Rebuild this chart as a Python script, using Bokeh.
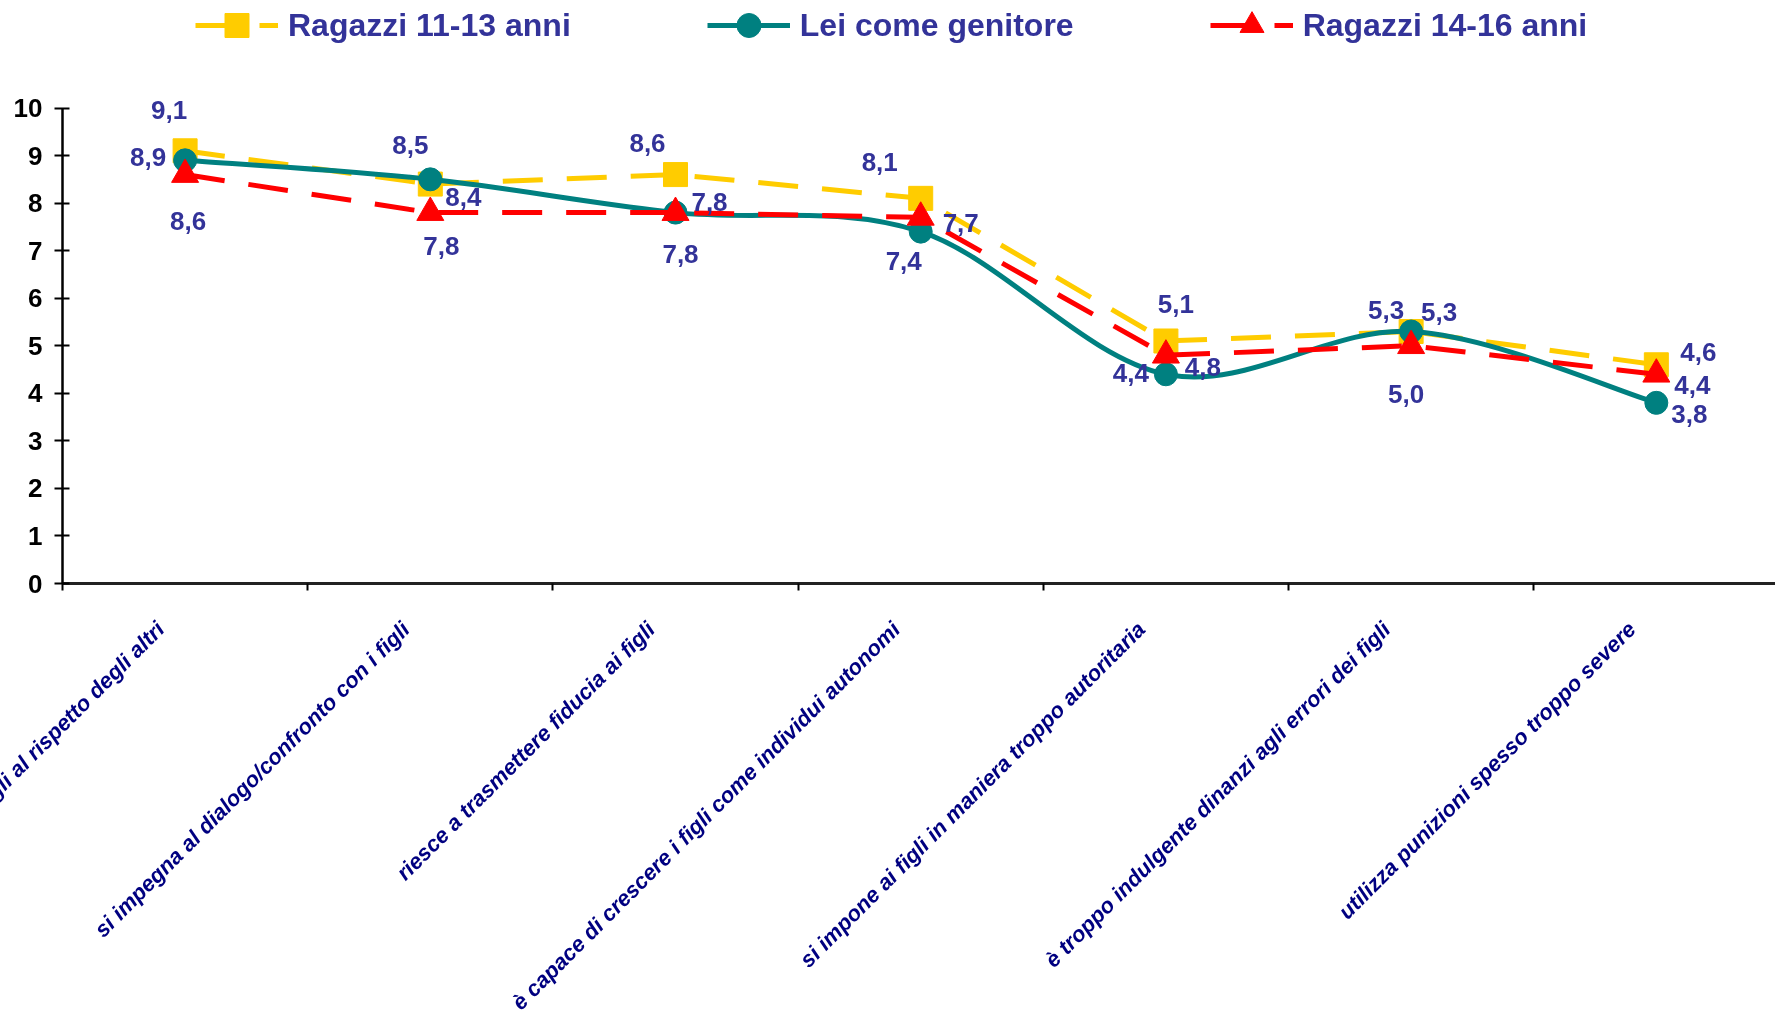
import math
from bokeh.plotting import figure
from bokeh.models import (Range1d, FixedTicker, LinearAxis, Legend, LegendItem,
                          LabelSet, ColumnDataSource)
from bokeh.core.properties import value
from bokeh.embed import file_html
from bokeh.resources import INLINE

# ---------------- data ----------------
categories = [
    "educa i figli al rispetto degli altri",
    "si impegna al dialogo/confronto con i figli",
    "riesce a trasmettere fiducia ai figli",
    "è capace di crescere i figli come individui autonomi",
    "si impone ai figli in maniera troppo autoritaria",
    "è troppo indulgente dinanzi agli errori dei figli",
    "utilizza punizioni spesso troppo severe",
]
ragazzi_11_13 = [9.1, 8.4, 8.6, 8.1, 5.1, 5.3, 4.6]
lei_genitore = [8.9, 8.5, 7.8, 7.4, 4.4, 5.3, 3.8]
ragazzi_14_16 = [8.6, 7.8, 7.8, 7.7, 4.8, 5.0, 4.4]
series_names = ["Ragazzi 11-13 anni", "Lei come genitore", "Ragazzi 14-16 anni"]
y_ticks = [0, 1, 2, 3, 4, 5, 6, 7, 8, 9, 10]

# ---------------- styles ----------------
FONT = "Liberation Sans"
LABEL_COLOR = "#333399"
CAT_COLOR = "#000080"
YELLOW = "#FFCC00"
TEAL = "#008080"
RED = "#FF0000"

# value-label offsets in screen px (dx right, dy down)
off_11_13 = [(-16, -41), (33, 13), (-28, -32), (-41, -36), (10, -37), (-25, -21), (42, -13)]
off_gen = [(-37, -3), (-20, -34), (34, -11), (-17, 29), (-35, -1), (28, -19), (33, 11)]
off_14_16 = [(3, 46), (11, 33), (5, 41), (40, 6), (37, 12), (-5, 48), (36, 11)]

x = [i + 0.5 for i in range(len(categories))]

SHIFT = 100   # canvas starts left of the window, so the first label is cut like the original
FRAME_H = 583
BOTTOM = 520
p = figure(width=1775 + SHIFT, height=FRAME_H + BOTTOM, output_backend="svg",
           toolbar_location=None,
           x_range=Range1d(0, 6.986), y_range=Range1d(0, 12.261),
           min_border_left=62 + SHIFT, min_border_right=0, min_border_top=0,
           min_border_bottom=BOTTOM, x_axis_type=None, y_axis_type=None)
p.styles = {"position": "fixed", "left": f"-{SHIFT}px", "top": "0px"}
p.outline_line_color = None
p.background_fill_color = "white"
p.border_fill_color = "white"

# y axis
yaxis = LinearAxis(ticker=FixedTicker(ticks=y_ticks, minor_ticks=[]), bounds=(0, 10))
yaxis.axis_line_color = "black"
yaxis.axis_line_width = 2.5
yaxis.major_tick_out = 8
yaxis.major_tick_in = 7
yaxis.major_tick_line_width = 2
yaxis.major_tick_line_color = "black"
yaxis.minor_tick_out = 0
yaxis.minor_tick_in = 0
yaxis.major_label_text_font = FONT
yaxis.major_label_text_font_size = "26px"
yaxis.major_label_text_font_style = "bold"
yaxis.major_label_text_color = "black"
yaxis.major_label_standoff = 12
p.add_layout(yaxis, "left")

# x axis: boundaries as minor ticks, labels at (shifted) centres
label_pos = [round(c - 0.1, 2) for c in x]
overrides = {}
for pos, cat in zip(label_pos, categories):
    overrides[pos] = cat
    overrides[f"{pos:g}"] = cat
xaxis = LinearAxis(ticker=FixedTicker(ticks=label_pos,
                                      minor_ticks=list(range(len(categories) + 1))))
xaxis.major_label_overrides = overrides
xaxis.axis_line_color = "#222222"
xaxis.axis_line_width = 3
xaxis.major_tick_out = 0
xaxis.major_tick_in = 0
xaxis.minor_tick_out = 7
xaxis.minor_tick_in = 0
xaxis.minor_tick_line_width = 2
xaxis.minor_tick_line_color = "black"
xaxis.major_label_orientation = math.pi / 4
xaxis.major_label_text_font = FONT
xaxis.major_label_text_font_size = "22px"
xaxis.major_label_text_font_style = "bold italic"
xaxis.major_label_text_color = CAT_COLOR
xaxis.major_label_standoff = 35
p.add_layout(xaxis, "below")

# series 1: yellow dashed squares
l1 = p.line(x, ragazzi_11_13, line_color=YELLOW, line_width=5, line_dash="40 24")
m1 = p.scatter(x, ragazzi_11_13, marker="square", size=24, fill_color=YELLOW,
               line_color=YELLOW)

# series 2: teal smoothed line (Catmull-Rom as cubic Bezier)
n = len(x)
px = [x[0]] + x + [x[-1]]
py = [lei_genitore[0]] + lei_genitore + [lei_genitore[-1]]
bx0, by0, bx1, by1, cx0, cy0, cx1, cy1 = ([] for _ in range(8))
for i in range(n - 1):
    a, b, c, d = i, i + 1, i + 2, i + 3
    bx0.append(px[b]); by0.append(py[b])
    bx1.append(px[c]); by1.append(py[c])
    cx0.append(px[b] + (px[c] - px[a]) / 6); cy0.append(py[b] + (py[c] - py[a]) / 6)
    cx1.append(px[c] - (px[d] - px[b]) / 6); cy1.append(py[c] - (py[d] - py[b]) / 6)
l2 = p.bezier(x0=bx0, y0=by0, x1=bx1, y1=by1, cx0=cx0, cy0=cy0, cx1=cx1, cy1=cy1,
              line_color=TEAL, line_width=5)
m2 = p.scatter(x, lei_genitore, marker="circle", size=23, fill_color=TEAL,
               line_color=TEAL)

# series 3: red dashed triangles
l3 = p.line(x, ragazzi_14_16, line_color=RED, line_width=5, line_dash="40 24")
m3 = p.scatter(x, ragazzi_14_16, marker="triangle", size=27, fill_color=RED,
               line_color=RED)

# value labels
lx, ly, lt, lxo, lyo = [], [], [], [], []
for vals, offs in ((ragazzi_11_13, off_11_13), (lei_genitore, off_gen),
                   (ragazzi_14_16, off_14_16)):
    for xi, v, (dx, dy) in zip(x, vals, offs):
        lx.append(xi); ly.append(v)
        lt.append(f"{v:.1f}".replace(".", ","))
        lxo.append(dx); lyo.append(-dy)
src = ColumnDataSource(dict(x=lx, y=ly, t=lt, xo=lxo, yo=lyo))
labels = LabelSet(x="x", y="y", text="t", x_offset="xo", y_offset="yo", source=src,
                  text_font=value(FONT), text_font_size=value("26px"),
                  text_font_style="bold", text_color=LABEL_COLOR,
                  text_align="center", text_baseline="middle")
p.add_layout(labels)

# legend above the plot (inside the frame, which reaches the top of the canvas)
legend = Legend(items=[
    LegendItem(label=series_names[0], renderers=[l1, m1]),
    LegendItem(label=series_names[1], renderers=[l2, m2]),
    LegendItem(label=series_names[2], renderers=[l3, m3]),
], orientation="horizontal", location=(133, 528))
legend.glyph_width = 83
legend.glyph_height = 60
legend.label_height = 60
legend.label_standoff = 10
legend.spacing = 136
legend.padding = 0
legend.margin = 0
legend.border_line_color = None
legend.background_fill_alpha = 0
legend.label_text_font = FONT
legend.label_text_font_size = "32px"
legend.label_text_font_style = "bold"
legend.label_text_color = LABEL_COLOR
p.add_layout(legend, "center")

open("out.html", "w").write(file_html(p, INLINE))
